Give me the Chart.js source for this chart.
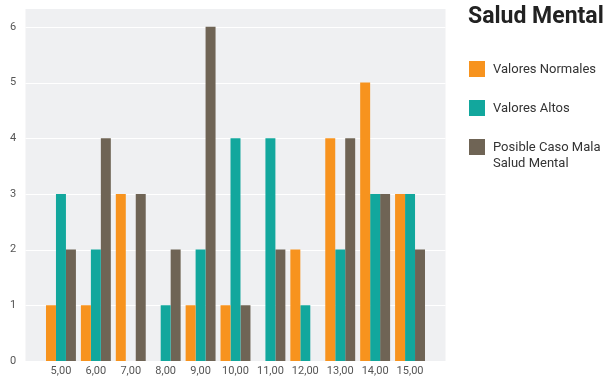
<!DOCTYPE html>
<html>
<head>
<meta charset="utf-8">
<script src="https://cdn.jsdelivr.net/npm/chart.js@4.4.1/dist/chart.umd.min.js"></script>
<style>
  body { margin: 0; background: #fff; font-family: Roboto, sans-serif; }
  #wrap { position: relative; width: 609px; height: 377px; }
  #title { position: absolute; left: 468px; top: 5px; font-size: 23px; line-height: 22px; font-weight: 700; color: #222; white-space: nowrap; }
  .item { position: absolute; left: 469px; display: flex; }
  .box { width: 16px; height: 16px; flex: none; }
  .txt { margin-left: 8px; font-size: 13px; line-height: 16px; color: #333; white-space: pre-line; }
</style>
</head>
<body>
<div id="wrap">
  <canvas id="chart" width="609" height="377"></canvas>
  <div id="title">Salud Mental</div>
  <div id="legend"></div>
</div>
<script>
// data
const categories = ['5,00', '6,00', '7,00', '8,00', '9,00', '10,00', '11,00', '12,00', '13,00', '14,00', '15,00']
const valoresNormales = [1, 1, 3, 0, 1, 1, 0, 2, 4, 5, 3]
const valoresAltos = [3, 2, 0, 1, 2, 4, 4, 1, 2, 3, 3]
const posibleCaso = [2, 4, 3, 2, 6, 1, 2, 0, 4, 3, 2]
const seriesNames = ['Valores Normales', 'Valores Altos', 'Posible Caso Mala\nSalud Mental']
const seriesColors = ['#f7931e', '#12a79d', '#6f6455']

// gray plot background + white gridlines, a bit wider than the category area
const plotBackground = {
  id: 'plotBackground',
  beforeDraw(chart) {
    const { ctx, chartArea, scales } = chart
    const y = scales.y
    const ext = 18
    const left = chartArea.left - ext
    const right = chartArea.right + ext
    ctx.save()
    ctx.fillStyle = '#eff0f2'
    ctx.fillRect(left, chartArea.top, right - left, chartArea.bottom - chartArea.top)
    ctx.strokeStyle = '#ffffff'
    ctx.lineWidth = 1
    y.ticks.forEach(t => {
      if (t.value === 0) return
      const py = Math.round(y.getPixelForValue(t.value)) + 0.5
      ctx.beginPath()
      ctx.moveTo(left, py)
      ctx.lineTo(right, py)
      ctx.stroke()
    })
    ctx.restore()
  }
}

const datasets = [valoresNormales, valoresAltos, posibleCaso].map((values, i) => ({
  label: seriesNames[i],
  data: values,
  backgroundColor: seriesColors[i],
  borderWidth: 0,
  categoryPercentage: 30 / 35,
  barPercentage: 1
}))

new Chart(document.getElementById('chart'), {
  type: 'bar',
  data: { labels: categories, datasets },
  options: {
    responsive: false,
    animation: false,
    layout: { padding: { left: 10, right: 181.5, top: 9, bottom: 0 } },
    plugins: {
      legend: { display: false },
      tooltip: { enabled: false }
    },
    scales: {
      x: {
        offset: true,
        grid: { display: false, drawTicks: false },
        border: { display: false },
        ticks: { color: '#555', font: { family: 'Roboto', size: 11 }, padding: 4, maxRotation: 0 },
        afterFit: s => { s.height = 16 }
      },
      y: {
        min: 0,
        max: 6.32,
        grid: { display: false, drawTicks: false },
        border: { display: false },
        ticks: { stepSize: 1, includeBounds: false, color: '#555', font: { family: 'Roboto', size: 11 }, padding: 0, crossAlign: 'far' },
        afterFit: s => { s.width = 33.5 }
      }
    }
  },
  plugins: [plotBackground]
})

// html legend
const legend = document.getElementById('legend')
seriesNames.forEach((name, i) => {
  const item = document.createElement('div')
  item.className = 'item'
  item.style.top = (61 + i * 39) + 'px'
  item.innerHTML = '<div class="box" style="background:' + seriesColors[i] + '"></div><div class="txt"></div>'
  item.querySelector('.txt').textContent = name
  legend.appendChild(item)
})
</script>
</body>
</html>
